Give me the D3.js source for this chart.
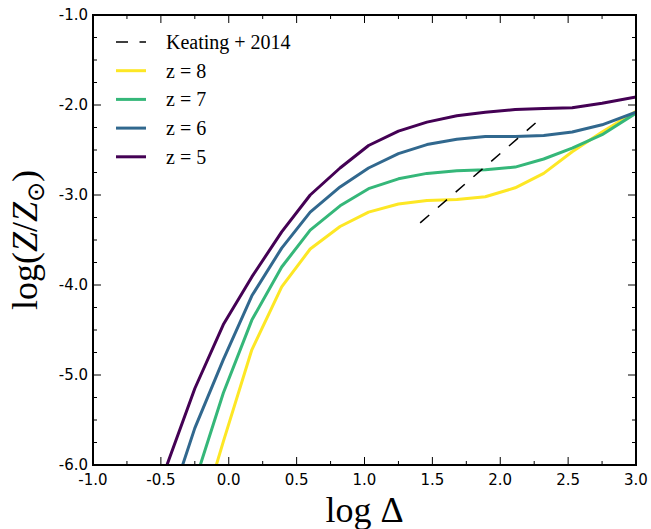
<!DOCTYPE html>
<html>
<head>
<meta charset="utf-8">
<script src="https://cdn.jsdelivr.net/npm/d3@7"></script>
<style>
  body { margin: 0; background: #fff; }
  .tick-label { font-family: "DejaVu Sans", sans-serif; font-size: 15px; fill: #000; }
  .serif { font-family: "Liberation Serif", "DejaVu Serif", serif; fill: #000; }
</style>
</head>
<body>
<div id="wrapper"></div>
<script>
const logDelta = [-0.46, -0.25, -0.04, 0.17, 0.39, 0.60, 0.82, 1.03, 1.25, 1.46, 1.68, 1.89, 2.11, 2.32, 2.53, 2.75, 3.00]
const z8 = [null, -6.80, -5.74, -4.72, -4.02, -3.60, -3.35, -3.19, -3.10, -3.06, -3.05, -3.02, -2.92, -2.76, -2.52, -2.30, -2.07]
const z7 = [null, -6.19, -5.20, -4.39, -3.80, -3.39, -3.12, -2.93, -2.82, -2.76, -2.73, -2.72, -2.69, -2.60, -2.48, -2.33, -2.09]
const z6 = [-6.55, -5.59, -4.83, -4.12, -3.59, -3.19, -2.91, -2.70, -2.54, -2.44, -2.38, -2.35, -2.35, -2.34, -2.30, -2.22, -2.08]
const z5 = [-6.02, -5.15, -4.44, -3.91, -3.41, -3.00, -2.70, -2.45, -2.29, -2.19, -2.12, -2.08, -2.05, -2.04, -2.03, -1.98, -1.91]
const keatingX = [1.41, 2.26]
const keatingY = [-3.31, -2.20]
const seriesNames = ["z = 8", "z = 7", "z = 6", "z = 5"]
const seriesColors = ["#fde725", "#35b779", "#31688e", "#440154"]
const xTicks = [-1.0, -0.5, 0.0, 0.5, 1.0, 1.5, 2.0, 2.5, 3.0]
const yTicks = [-6.0, -5.0, -4.0, -3.0, -2.0, -1.0]

const series = [z8, z7, z6, z5]

let dimensions = {
  width: 651,
  height: 529,
  margin: { top: 15, right: 15, bottom: 64, left: 93 }
}
dimensions.boundedWidth = dimensions.width - dimensions.margin.left - dimensions.margin.right
dimensions.boundedHeight = dimensions.height - dimensions.margin.top - dimensions.margin.bottom

const wrapper = d3.select("#wrapper")
  .append("svg")
    .attr("width", dimensions.width)
    .attr("height", dimensions.height)

const bounds = wrapper.append("g")
  .attr("transform", `translate(${dimensions.margin.left}, ${dimensions.margin.top})`)

const xScale = d3.scaleLinear().domain([-1, 3]).range([0, dimensions.boundedWidth])
const yScale = d3.scaleLinear().domain([-6, -1]).range([dimensions.boundedHeight, 0])

bounds.append("clipPath").attr("id", "clip")
  .append("rect")
    .attr("width", dimensions.boundedWidth)
    .attr("height", dimensions.boundedHeight)

const lineGen = d3.line()
  .defined(d => d[1] != null)
  .x(d => xScale(d[0]))
  .y(d => yScale(d[1]))

const plot = bounds.append("g").attr("clip-path", "url(#clip)")

series.forEach((vals, i) => {
  plot.append("path")
    .datum(logDelta.map((x, j) => [x, vals[j]]))
    .attr("fill", "none")
    .attr("stroke", seriesColors[i])
    .attr("stroke-width", 3)
    .attr("stroke-linejoin", "round")
    .attr("d", lineGen)
})

plot.append("path")
  .datum(keatingX.map((x, j) => [x, keatingY[j]]))
  .attr("fill", "none")
  .attr("stroke", "#000")
  .attr("stroke-width", 1.5)
  .attr("stroke-dasharray", "12,11.5")
  .attr("d", lineGen)

// ticks on all four sides, pointing inward
const minorX = d3.range(-1, 3.001, 0.25)
const minorY = d3.range(-6, -0.999, 0.25)
const ticks = bounds.append("g").attr("stroke", "#000").attr("stroke-width", 1)

minorX.forEach(v => {
  const len = Math.abs(v * 2 - Math.round(v * 2)) < 1e-6 ? 8 : 4
  ticks.append("line").attr("x1", xScale(v)).attr("x2", xScale(v))
    .attr("y1", dimensions.boundedHeight).attr("y2", dimensions.boundedHeight - len)
  ticks.append("line").attr("x1", xScale(v)).attr("x2", xScale(v))
    .attr("y1", 0).attr("y2", len)
})
minorY.forEach(v => {
  const len = Math.abs(v - Math.round(v)) < 1e-6 ? 8 : 4
  ticks.append("line").attr("y1", yScale(v)).attr("y2", yScale(v))
    .attr("x1", 0).attr("x2", len)
  ticks.append("line").attr("y1", yScale(v)).attr("y2", yScale(v))
    .attr("x1", dimensions.boundedWidth).attr("x2", dimensions.boundedWidth - len)
})

bounds.append("rect")
  .attr("width", dimensions.boundedWidth)
  .attr("height", dimensions.boundedHeight)
  .attr("fill", "none")
  .attr("stroke", "#000")
  .attr("stroke-width", 2)

const fmt = v => v.toFixed(1).replace("\u2212", "-")

bounds.append("g").selectAll("text")
  .data(xTicks)
  .enter().append("text")
    .attr("class", "tick-label")
    .attr("x", d => xScale(d))
    .attr("y", dimensions.boundedHeight + 20)
    .attr("text-anchor", "middle")
    .text(fmt)

bounds.append("g").selectAll("text")
  .data(yTicks)
  .enter().append("text")
    .attr("class", "tick-label")
    .attr("x", -5)
    .attr("y", d => yScale(d) + 5)
    .attr("text-anchor", "end")
    .text(fmt)

// axis labels
wrapper.append("text")
  .attr("class", "serif")
  .attr("x", dimensions.margin.left + dimensions.boundedWidth / 2)
  .attr("y", 522)
  .attr("text-anchor", "middle")
  .attr("font-size", 36)
  .text("log \u0394")

const yLabel = wrapper.append("text")
  .attr("class", "serif")
  .attr("transform", `translate(37, ${dimensions.margin.top + dimensions.boundedHeight / 2}) rotate(-90)`)
  .attr("text-anchor", "middle")
  .attr("font-size", 36)
yLabel.append("tspan").text("log(")
yLabel.append("tspan").attr("font-style", "italic").text("Z")
yLabel.append("tspan").text("/")
yLabel.append("tspan").attr("font-style", "italic").text("Z")
yLabel.append("tspan").attr("font-size", 24).attr("dy", 7).attr("font-family", "DejaVu Sans").text("\u2299")
yLabel.append("tspan").attr("dy", -7).text(")")

// legend
const legendItems = [{ name: "Keating + 2014", color: "#000", dashed: true }]
  .concat(seriesNames.map((n, i) => ({ name: n, color: seriesColors[i], dashed: false })))

const legend = wrapper.append("g")
const legendGroup = legend.selectAll("g")
  .data(legendItems)
  .enter().append("g")
    .attr("transform", (d, i) => `translate(0, ${42 + i * 28.7})`)

legendGroup.append("line")
  .attr("x1", 116)
  .attr("x2", 146)
  .attr("stroke", d => d.color)
  .attr("stroke-width", d => d.dashed ? 1.5 : 3)
  .attr("stroke-dasharray", d => d.dashed ? "12,11.5" : null)

legendGroup.append("text")
  .attr("class", "serif")
  .attr("x", 166)
  .attr("y", 7)
  .attr("font-size", 20)
  .text(d => d.name)
</script>
</body>
</html>
